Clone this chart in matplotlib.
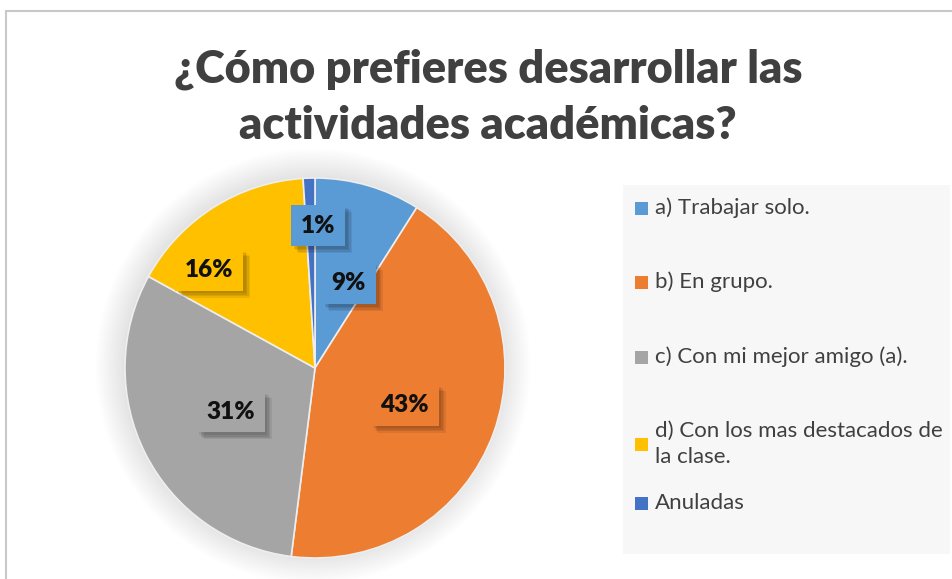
import numpy as np
import matplotlib.pyplot as plt
from matplotlib.patches import Rectangle, Circle
import matplotlib.patheffects as pe

plt.rcParams['font.family'] = ['Lato', 'DejaVu Sans']

# Data
categories = ['a) Trabajar solo.', 'b) En grupo.', 'c) Con mi mejor amigo (a).',
              'd) Con los mas destacados de\nla clase.', 'Anuladas']
percentages = [9, 43, 31, 16, 1]
colors = ['#5B9BD5', '#ED7D31', '#A5A5A5', '#FFC000', '#4472C4']
label_colors = ['#5B9BD5', '#ED7D31', '#A5A5A5', '#FFC000', '#5B9BD5']
title = '¿Cómo prefieres desarrollar las\nactividades académicas?'

# label placement per slice (radius fraction, angle nudge in degrees)
label_dist = [0.48, 0.51, 0.50, 0.76, 0.75]
label_nudge = [-5.6, -2.6, 0.4, 14.8, -3.0]

W, H = 953, 579
fig = plt.figure(figsize=(W / 100, H / 100), dpi=100)

# outer frame
frame = Rectangle((6 / W, -0.05), 1.2, (H - 11) / H + 0.05, transform=fig.transFigure,
                  fill=False, edgecolor='#c8c8c8', linewidth=1.5)
fig.patches.append(frame)

fig.text(488 / W, 1 - 97 / H, title, ha='center', va='center', fontsize=32.5,
         fontweight='heavy', color='#404040', linespacing=1.45)

# pie axes: center (315, 368), radius 190 px
cx, cy, r = 315, 368, 190
pad = 30
ax = fig.add_axes([(cx - r - pad) / W, (H - cy - r - pad) / H, 2 * (r + pad) / W, 2 * (r + pad) / H])

wedges, _ = ax.pie(percentages, colors=colors, startangle=90, counterclock=False,
                   radius=1, wedgeprops=dict(edgecolor='#eeeeee', linewidth=1.2))
for w in wedges:
    w.set_zorder(2)
lim = (r + pad) / r
ax.set_xlim(-lim, lim)
ax.set_ylim(-lim, lim)
ax.set_aspect('equal')
ax.axis('off')

# soft glow around the pie
for i in range(14):
    ax.add_patch(Circle((-0.01, 0.01), 1 + 0.011 * i, color='black', alpha=0.009, lw=0, zorder=0))

shadow = [pe.SimplePatchShadow(offset=(o, -o), shadow_rgbFace='black', alpha=0.08)
          for o in (5, 4, 3, 2)]
for w, pct, d, nud, lc in zip(wedges, percentages, label_dist, label_nudge, label_colors):
    ang = np.deg2rad((w.theta1 + w.theta2) / 2 + nud)
    t = ax.text(d * np.cos(ang), d * np.sin(ang), f'{pct}%', ha='center', va='center',
                fontsize=17.5, fontweight='heavy', color='#111111', zorder=5,
                bbox=dict(boxstyle='square,pad=0.4', facecolor=lc, edgecolor='none'))
    t.get_bbox_patch().set_path_effects(shadow + [pe.Normal()])

# legend box
fig.patches.append(Rectangle((623 / W, 1 - 554 / H), (950 - 623) / W, (554 - 185) / H,
                             transform=fig.transFigure, facecolor='#f7f7f7', edgecolor='none'))
leg_y = [208, 282, 357, 444, 503]
for lab, col, y in zip(categories, colors, leg_y):
    fig.patches.append(Rectangle((635 / W, 1 - (y + 7) / H), 13 / W, 13 / H,
                                 transform=fig.transFigure, facecolor=col, edgecolor='none'))
    fig.text(655 / W, 1 - y / H, lab, ha='left', va='center', fontsize=16,
             color='#404040', linespacing=1.4)

fig.savefig('out.png', dpi=100)
